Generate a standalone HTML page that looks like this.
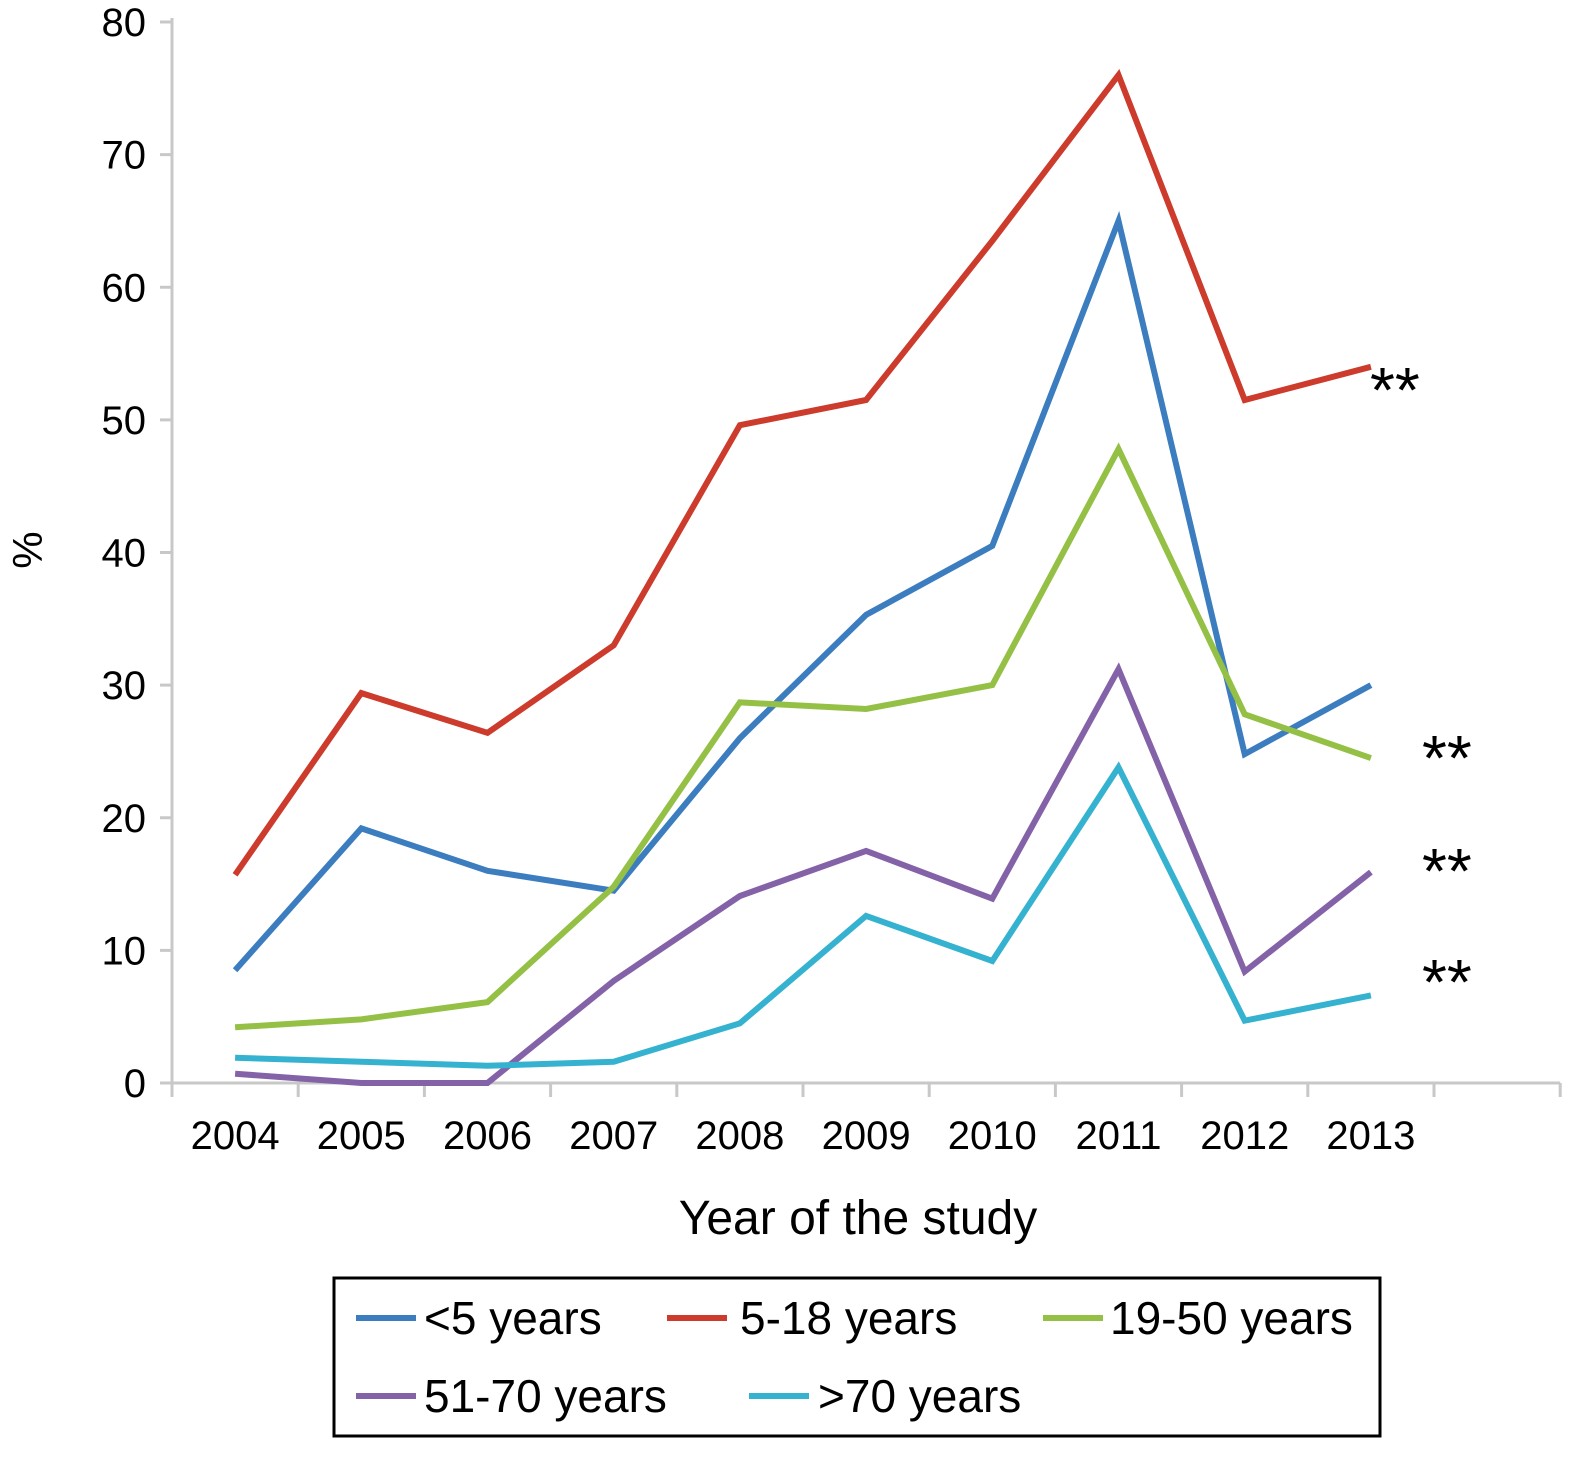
<!DOCTYPE html>
<html><head><meta charset="utf-8"><style>
body{margin:0;background:#fff}
svg text{font-family:"Liberation Sans",sans-serif}
</style></head><body>
<svg id="chart" width="1584" height="1453" xmlns="http://www.w3.org/2000/svg">
<g id="axes"></g><g id="series"></g>
<text x="42" y="550" font-size="42" text-anchor="middle" transform="rotate(-90 42 550)">%</text>
<text x="858" y="1234" font-size="48" text-anchor="middle">Year of the study</text>
<text x="1370" y="412" font-size="64" font-family="Liberation Serif,serif">**</text>
<text x="1422" y="780" font-size="64" font-family="Liberation Serif,serif">**</text>
<text x="1422" y="893" font-size="64" font-family="Liberation Serif,serif">**</text>
<text x="1422" y="1004" font-size="64" font-family="Liberation Serif,serif">**</text>
<g>
<rect x="334" y="1278" width="1046" height="158" fill="none" stroke="#000" stroke-width="3"/>
<g><line x1="356" y1="1318" x2="416" y2="1318" stroke="#3b7dbf" stroke-width="6"/><text x="424" y="1334" font-size="46">&lt;5 years</text></g>
<g><line x1="667" y1="1318" x2="727" y2="1318" stroke="#cc3b2b" stroke-width="6"/><text x="740" y="1334" font-size="46">5-18 years</text></g>
<g><line x1="1043" y1="1318" x2="1103" y2="1318" stroke="#94c046" stroke-width="6"/><text x="1110" y="1334" font-size="46">19-50 years</text></g>
<g><line x1="356" y1="1396" x2="416" y2="1396" stroke="#8462a8" stroke-width="6"/><text x="424" y="1412" font-size="46">51-70 years</text></g>
<g><line x1="749" y1="1396" x2="809" y2="1396" stroke="#35b2cf" stroke-width="6"/><text x="818" y="1412" font-size="46">&gt;70 years</text></g>
</g>
</svg>
<script>
const years=["2004","2005","2006","2007","2008","2009","2010","2011","2012","2013"];
const yTicks=[0,10,20,30,40,50,60,70,80];
const under5=[8.5,19.2,16,14.5,26,35.3,40.5,65,24.8,30];
const age5to18=[15.7,29.4,26.4,33,49.6,51.5,63.5,76,51.5,54];
const age19to50=[4.2,4.8,6.1,14.8,28.7,28.2,30,47.8,27.8,24.5];
const age51to70=[0.7,0,0,7.7,14.1,17.5,13.9,31.2,8.4,15.9];
const over70=[1.9,1.6,1.3,1.6,4.5,12.6,9.2,23.8,4.7,6.6];
const NS="http://www.w3.org/2000/svg";
const x0=172,cw=126.2,y0=1083,yTop=22;
const xS=i=>x0+cw*(i+0.5);
const yS=v=>y0-(v/80)*(y0-yTop);
function mk(tag,attrs,parent,txt){const e=document.createElementNS(NS,tag);for(const k in attrs)e.setAttribute(k,attrs[k]);if(txt!==undefined)e.textContent=txt;parent.appendChild(e);return e;}
const ax=document.getElementById('axes');
let e=mk('line',{x1:x0,y1:yS(80)-4,x2:x0,y2:y0,stroke:'#c8c8c8','stroke-width':3},ax);

e=mk('line',{x1:x0,y1:y0,x2:x0+cw*11,y2:y0,stroke:'#c8c8c8','stroke-width':3},ax);

yTicks.forEach(t=>{
 mk('line',{x1:x0-12,y1:yS(t),x2:x0,y2:yS(t),stroke:'#c8c8c8','stroke-width':3},ax);
 const l=mk('text',{x:146,y:yS(t)+14,'font-size':40,'text-anchor':'end'},ax,t);
 
 
});
for(let i=0;i<=11;i++)mk('line',{x1:x0+cw*i,y1:y0,x2:x0+cw*i,y2:y0+14,stroke:'#c8c8c8','stroke-width':3},ax);
years.forEach((y,i)=>{
 const l=mk('text',{x:xS(i),y:1149,'font-size':40,'text-anchor':'middle'},ax,y);
 
 
});
const sg=document.getElementById('series');
[[age5to18,'#cc3b2b','line-5-18'],[under5,'#3b7dbf','line-under-5'],[age19to50,'#94c046','line-19-50'],[age51to70,'#8462a8','line-51-70'],[over70,'#35b2cf','line-over-70']].forEach(([d,c,n])=>{
 const p=mk('polyline',{points:d.map((v,i)=>xS(i)+','+yS(v)).join(' '),fill:'none',stroke:c,'stroke-width':6,'stroke-linejoin':'miter'},sg);
 
 
});
</script>
</body></html>
